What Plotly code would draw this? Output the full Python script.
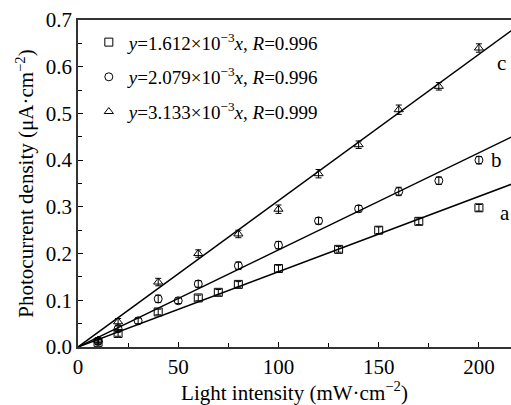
import plotly.graph_objects as go

# Data
x_a = [10, 20, 40, 60, 70, 80, 100, 130, 150, 170, 200]
y_a = [0.010, 0.029, 0.075, 0.105, 0.117, 0.134, 0.168, 0.209, 0.250, 0.269, 0.298]
x_b = [10, 20, 30, 40, 50, 60, 80, 100, 120, 140, 160, 180, 200]
y_b = [0.012, 0.039, 0.056, 0.103, 0.099, 0.135, 0.174, 0.218, 0.270, 0.296, 0.333, 0.356, 0.400]
x_c = [10, 20, 40, 60, 80, 100, 120, 140, 160, 180, 200]
y_c = [0.015, 0.054, 0.139, 0.200, 0.242, 0.295, 0.371, 0.433, 0.508, 0.558, 0.640]
err_a = [0.005, 0.006, 0.006, 0.006, 0.006, 0.006, 0.007, 0.006, 0.007, 0.007, 0.007]
err_b = [0.005, 0.006, 0.006, 0.008, 0.006, 0.007, 0.008, 0.008, 0.007, 0.007, 0.009, 0.008, 0.008]
err_c = [0.005, 0.007, 0.008, 0.008, 0.008, 0.009, 0.009, 0.008, 0.010, 0.008, 0.009]
slopes = [1.612e-3, 2.079e-3, 3.133e-3]
r_values = ["0.996", "0.996", "0.999"]
slope_labels = ["1.612", "2.079", "3.133"]
line_labels = ["a", "b", "c"]
label_x = [213, 209, 211.5]
label_y = [0.286, 0.400, 0.608]
fit_x = [0, 230]
x_ticks = [0, 50, 100, 150, 200]
y_ticks = [0.0, 0.1, 0.2, 0.3, 0.4, 0.5, 0.6, 0.7]

FONT = "'Liberation Serif', 'Times New Roman', Times, serif"
symbols = ["square-open", "circle-open", "triangle-up-open"]
xs = [x_a, x_b, x_c]
ys = [y_a, y_b, y_c]
errs = [err_a, err_b, err_c]

fig = go.Figure()
for i in range(3):
    fig.add_trace(go.Scatter(
        x=fit_x, y=[slopes[i] * v for v in fit_x], mode="lines",
        line=dict(color="black", width=1.5), showlegend=False, hoverinfo="skip"))
for i in range(3):
    fig.add_trace(go.Scatter(
        x=xs[i], y=ys[i], mode="markers",
        marker=dict(symbol=symbols[i], size=8, color="black", line=dict(width=1, color="black")),
        error_y=dict(type="data", array=errs[i], color="black", thickness=1, width=3),
        name=f"<i>y</i>={slope_labels[i]}×10<sup>−3</sup><i>x</i>, <i>R</i>={r_values[i]}",
        legendgroup=f"g{i}"))

for i in range(3):
    fig.add_annotation(x=label_x[i], y=label_y[i], text=line_labels[i], showarrow=False,
                       xanchor="center", yanchor="middle", font=dict(family=FONT, size=21, color="black"))

fig.update_layout(
    width=511, height=405,
    margin=dict(l=78, r=0, t=20, b=58),
    paper_bgcolor="white", plot_bgcolor="white",
    font=dict(family=FONT, size=21, color="black"),
    showlegend=True,
    legend=dict(x=0.025, y=0.99, xanchor="left", yanchor="top", bgcolor="rgba(0,0,0,0)",
                font=dict(family=FONT, size=19), tracegroupgap=7, itemwidth=30),
    xaxis=dict(range=[0, 216], tickvals=x_ticks, ticks="inside", ticklen=5, tickcolor="black",
               showline=True, linecolor="#333", linewidth=1.5, mirror=True, showgrid=False, zeroline=False,
               minor=dict(ticks="inside", ticklen=4, dtick=25, tickcolor="black"),
               title=dict(text="Light intensity (mW·cm<sup>−2</sup>)", standoff=6,
                          font=dict(family=FONT, size=21)),
               tickfont=dict(family=FONT, size=21)),
    yaxis=dict(range=[0, 0.7], tickvals=y_ticks, tickformat=".1f", ticks="inside", ticklen=5, tickcolor="black",
               showline=True, linecolor="#333", linewidth=1.5, showgrid=False, zeroline=False,
               minor=dict(ticks="inside", ticklen=4, dtick=0.05, tickcolor="black"),
               title=dict(text="Photocurrent density (μA·cm<sup>−2</sup>)", standoff=6,
                          font=dict(family=FONT, size=21)),
               tickfont=dict(family=FONT, size=21)),
)

fig.write_html("out.html")
